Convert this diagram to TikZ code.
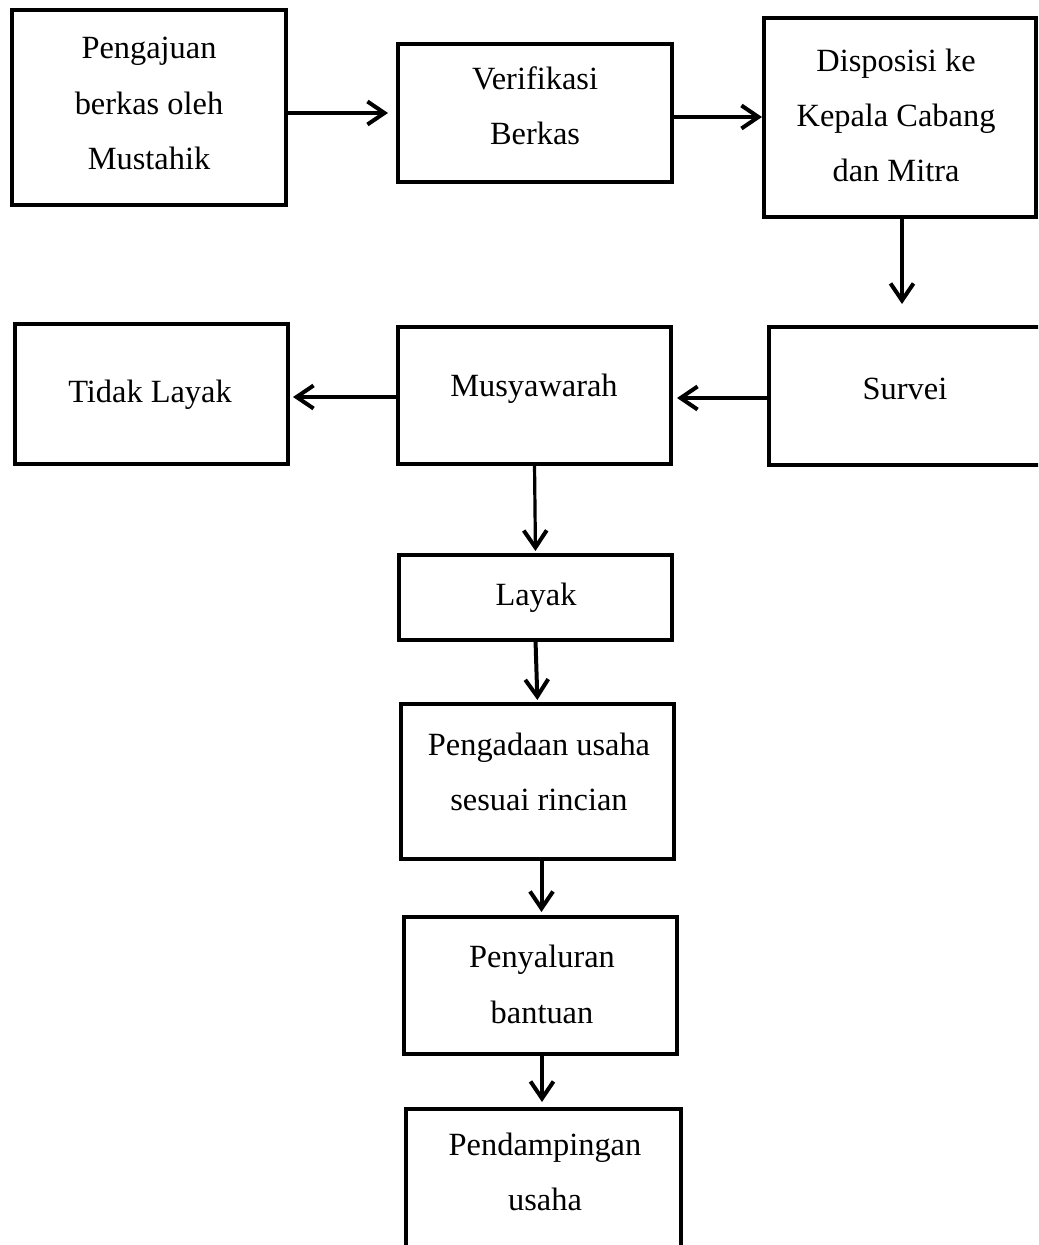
\documentclass[tikz,border=0pt]{standalone}
\usepackage{fontspec}
\setmainfont{Liberation Serif}
\usetikzlibrary{arrows.meta}
\tikzset{
  box/.style 2 args={draw=black, line width=2pt, rectangle, inner sep=0pt, outer sep=0pt,
    minimum width=#1*0.5pt, minimum height=#2*0.5pt},
  txt/.style={inner sep=0pt, outer sep=0pt, anchor=base, font=\fontsize{16.2}{20}\selectfont},
  arr/.style={line width=2pt, -{Straight Barb[length=8.5pt,width=11.5pt,line width=2pt]}},
}
\begin{document}
\begin{tikzpicture}[x=0.5pt,y=-0.5pt]
\useasboundingbox (0,0) rectangle (1038,1245);
\clip (0,0) rectangle (1038,1245);
% boxes
\node[box={274}{195}] (peng)   at (149,107.5) {};
\node[box={274}{138}] (verif)  at (535,113) {};
\node[box={272}{199}] (disp)   at (900,117.5) {};
\node[box={273}{140}] (tidak)  at (151.5,394) {};
\node[box={273}{137}] (musy)   at (534.5,395.5) {};
\node[box={281}{138}] (survei) at (909.5,396) {};
\node[box={273}{85}]  (layak)  at (535.5,597.5) {};
\node[box={273}{155}] (pengad) at (537.5,781.5) {};
\node[box={273}{137}] (penyal) at (540.5,985.5) {};
\node[box={275}{191}] (pend)   at (543.5,1204.5) {};
% texts
\node[txt] (t1a) at (149,59) {Pengajuan};
\node[txt] (t1b) at (149,115) {berkas oleh};
\node[txt] (t1c) at (149,170) {Mustahik};
\node[txt] (t2a) at (535,90) {Verifikasi};
\node[txt] (t2b) at (535,145) {Berkas};
\node[txt] (t3a) at (896,72) {Disposisi ke};
\node[txt] (t3b) at (896,127) {Kepala Cabang};
\node[txt] (t3c) at (896,182) {dan Mitra};
\node[txt] (t4)  at (150,402) {Tidak Layak};
\node[txt] (t5)  at (534,397) {Musyawarah};
\node[txt] (t6)  at (905,400) {Survei};
\node[txt] (t7)  at (536,605) {Layak};
\node[txt] (t8a) at (539,755) {Pengadaan usaha};
\node[txt] (t8b) at (539,810) {sesuai rincian};
\node[txt] (t9a) at (542,967) {Penyaluran};
\node[txt] (t9b) at (542,1023) {bantuan};
\node[txt] (t10a) at (545,1155) {Pendampingan};
\node[txt] (t10b) at (545,1210) {usaha};
% arrows
\draw[arr, shorten >=5pt] ([yshift=-3.75pt]peng.east) -- (peng.east |- verif.west) -- (verif.west);
\draw[arr, shorten >=1pt] ([yshift=-2pt]verif.east) -- ([yshift=-2pt]verif.east -| disp.west);
\draw[arr, shorten >=11.5pt] ([xshift=1pt]disp.south) -- ([xshift=1pt]disp.south |- survei.north);
\draw[arr, shorten >=3pt] ([yshift=-1pt]survei.west) -- ([yshift=-1pt]survei.west -| musy.east);
\draw[arr, shorten >=2.5pt] ([yshift=-0.75pt]musy.west) -- ([yshift=-0.75pt]musy.west -| tidak.east);
\draw[arr, line width=1.6pt, shorten >=2pt] (musy.south) -- (layak.north);
\draw[arr, shorten >=2pt] (layak.south) -- (pengad.north);
\draw[arr, shorten >=2.5pt] ([xshift=2pt]pengad.south) -- ([xshift=2pt]pengad.south |- penyal.north);
\draw[arr, shorten >=3.5pt] ([xshift=0.75pt]penyal.south) -- ([xshift=0.75pt]penyal.south |- pend.north);
\end{tikzpicture}
\end{document}
